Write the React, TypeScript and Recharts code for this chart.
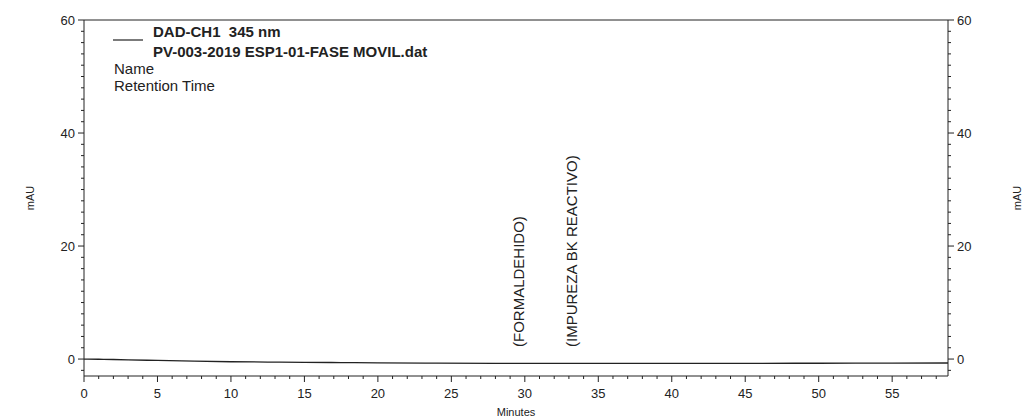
import { LineChart, Line, XAxis, YAxis, ReferenceLine, Legend } from "recharts";

const TIMES = [0, 1, 2, 3, 5, 7.5, 10, 12.5, 15, 17.5, 20, 24, 28, 32, 36, 40, 45, 50, 55, 58.8];
const MAU = [0, -0.04, -0.08, -0.13, -0.25, -0.38, -0.48, -0.53, -0.58, -0.62, -0.66, -0.72, -0.75, -0.76, -0.77, -0.77, -0.76, -0.74, -0.72, -0.7];

const X_LABELS = [0, 5, 10, 15, 20, 25, 30, 35, 40, 45, 50, 55];
const Y_LABELS = [0, 20, 40, 60];
const PEAK_NAMES = ["(FORMALDEHIDO)", "(IMPUREZA BK REACTIVO)"];
const PEAK_TIMES = [29.7, 33.3];

const LEGEND_CHANNEL = "DAD-CH1  345 nm";
const LEGEND_FILE = "PV-003-2019 ESP1-01-FASE MOVIL.dat";
const LEGEND_ROWS = ["Name", "Retention Time"];

const X_MAX = 58.8;
const Y_MIN = -3;
const Y_MAX = 60;

// minor ticks every minute / every 2 mAU
const xTicks: number[] = [];
for (let t = 0; t <= 58; t++) xTicks.push(t);
const yTicks: number[] = [];
for (let v = -2; v <= 60; v += 2) yTicks.push(v);

const data = TIMES.map((t, i) => ({ t, mau: MAU[i] }));

const INK = "#222";
const FONT = "'Liberation Sans', Arial, sans-serif";

function XTick({ x, y, payload }: any) {
  const major = X_LABELS.includes(payload.value);
  return (
    <g>
      <line x1={x} y1={y} x2={x} y2={y + (major ? 6 : 3)} stroke={INK} />
      {major && (
        <text x={x} y={y + 22} textAnchor="middle" fontSize={13} fill={INK} fontFamily={FONT}>
          {payload.value}
        </text>
      )}
    </g>
  );
}

function YTickLeft({ x, y, payload }: any) {
  const major = Y_LABELS.includes(payload.value);
  return (
    <g>
      <line x1={x - (major ? 6 : 3)} y1={y} x2={x} y2={y} stroke={INK} />
      {major && (
        <text x={x - 9} y={y + 4.5} textAnchor="end" fontSize={13} fill={INK} fontFamily={FONT}>
          {payload.value}
        </text>
      )}
    </g>
  );
}

function YTickRight({ x, y, payload }: any) {
  const major = Y_LABELS.includes(payload.value);
  return (
    <g>
      <line x1={x} y1={y} x2={x + (major ? 6 : 3)} y2={y} stroke={INK} />
      {major && (
        <text x={x + 9} y={y + 4.5} textAnchor="start" fontSize={13} fill={INK} fontFamily={FONT}>
          {payload.value}
        </text>
      )}
    </g>
  );
}

function PeakLabel({ viewBox, text }: any) {
  const tx = viewBox.x + 4;
  const ty = viewBox.y + viewBox.height - 29;
  return (
    <text
      x={tx}
      y={ty}
      transform={`rotate(-90, ${tx}, ${ty})`}
      textAnchor="start"
      fontSize={15}
      fill={INK}
      fontFamily={FONT}
    >
      {text}
    </text>
  );
}

function LegendBox() {
  return (
    <svg width={480} height={100} style={{ display: "block" }}>
      <line x1={113} y1={40} x2={143} y2={40} stroke={INK} strokeWidth={1.2} />
      <text x={153} y={37} fontSize={15} fontWeight="bold" fill={INK} fontFamily={FONT} style={{ whiteSpace: "pre" }}>
        {LEGEND_CHANNEL}
      </text>
      <text x={153} y={57} fontSize={15} fontWeight="bold" fill={INK} fontFamily={FONT}>
        {LEGEND_FILE}
      </text>
      {LEGEND_ROWS.map((row, i) => (
        <text key={row} x={114} y={74 + i * 17} fontSize={15} fill={INK} fontFamily={FONT}>
          {row}
        </text>
      ))}
    </svg>
  );
}

export default function App() {
  return (
    <div style={{ position: "absolute", left: 0, top: 0, background: "#fff" }}>
      <LineChart width={1023} height={418} data={data} margin={{ top: 20, right: 0, bottom: 0, left: 0 }}>
        <XAxis
          dataKey="t"
          type="number"
          domain={[0, X_MAX]}
          ticks={xTicks}
          interval={0}
          allowDataOverflow
          height={42}
          axisLine={{ stroke: INK }}
          tickLine={false}
          tickSize={0}
          tickMargin={0}
          tick={<XTick />}
          label={{ value: "Minutes", position: "insideBottom", offset: 2, fontSize: 11, fill: INK, fontFamily: FONT }}
        />
        <YAxis
          yAxisId="left"
          type="number"
          domain={[Y_MIN, Y_MAX]}
          ticks={yTicks}
          interval={0}
          allowDataOverflow
          width={84}
          axisLine={{ stroke: INK }}
          tickLine={false}
          tickSize={0}
          tickMargin={0}
          tick={<YTickLeft />}
          label={{
            value: "mAU",
            angle: -90,
            position: "insideLeft",
            offset: 30,
            fontSize: 11,
            fill: INK,
            fontFamily: FONT,
            style: { textAnchor: "middle" },
          }}
        />
        <YAxis
          yAxisId="right"
          orientation="right"
          type="number"
          domain={[Y_MIN, Y_MAX]}
          ticks={yTicks}
          interval={0}
          allowDataOverflow
          width={75}
          axisLine={{ stroke: INK }}
          tickLine={false}
          tickSize={0}
          tickMargin={0}
          tick={<YTickRight />}
          label={{
            value: "mAU",
            angle: -90,
            position: "insideRight",
            offset: 6,
            fontSize: 11,
            fill: INK,
            fontFamily: FONT,
            style: { textAnchor: "middle" },
          }}
        />
        <ReferenceLine yAxisId="left" y={Y_MAX} stroke={INK} />
        {PEAK_TIMES.map((t, i) => (
          <ReferenceLine
            key={PEAK_NAMES[i]}
            yAxisId="left"
            x={t}
            stroke="none"
            label={(props: any) => <PeakLabel {...props} text={PEAK_NAMES[i]} />}
          />
        ))}
        <Legend
          layout="horizontal"
          verticalAlign="middle"
          align="center"
          wrapperStyle={{ left: 0, top: 0, width: 480, height: 100 }}
          content={() => <LegendBox />}
        />
        <Line
          yAxisId="left"
          type="monotone"
          dataKey="mau"
          stroke={INK}
          strokeWidth={1.3}
          dot={false}
          activeDot={false}
          isAnimationActive={false}
        />
      </LineChart>
    </div>
  );
}
